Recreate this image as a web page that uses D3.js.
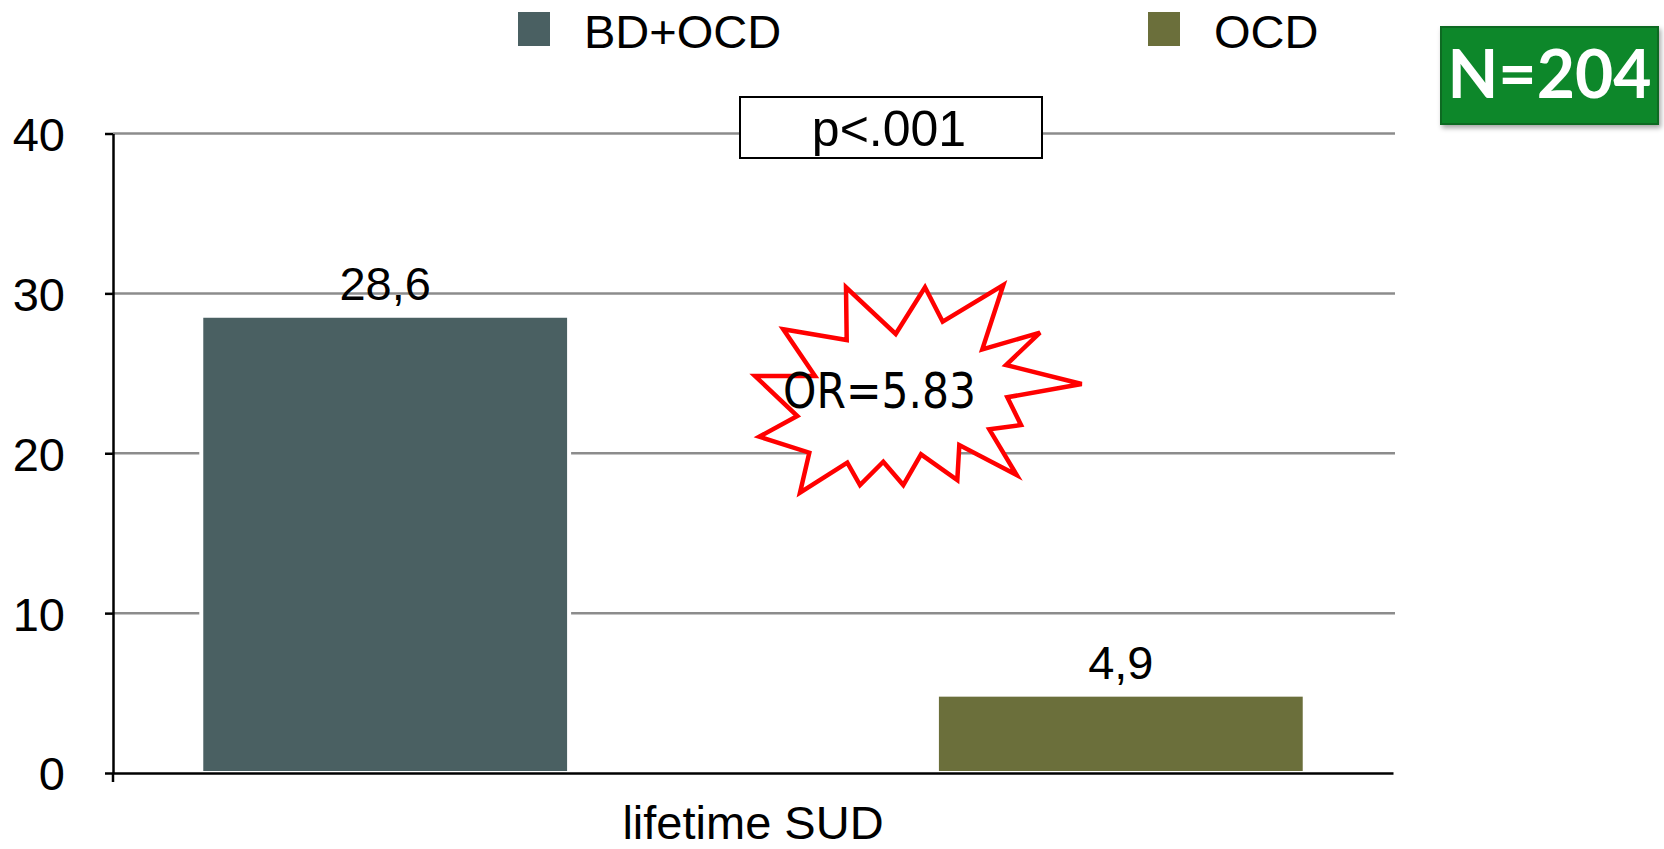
<!DOCTYPE html>
<html>
<head>
<meta charset="utf-8">
<script src="https://cdn.jsdelivr.net/npm/d3@7"></script>
<style>
  html, body { margin: 0; padding: 0; background: #fff; }
  svg { display: block; font-family: "Liberation Sans", Arial, Helvetica, sans-serif; }
</style>
</head>
<body>
<svg id="chart" width="1664" height="849"></svg>
<script>
// ---- data ----
const categories = ["lifetime SUD"];
const seriesNames = ["BD+OCD", "OCD"];
const seriesValues = [28.6, 4.9];
const valueLabels = ["28,6", "4,9"];
const seriesColors = ["#4a6062", "#6b6f3b"];
const yTicks = [0, 10, 20, 30, 40];
const pValueText = "p<.001";
const oddsRatioText = "OR=5.83";
const sampleSizeText = "N=204";

// ---- layout ----
const W = 1664, H = 849;
const plot = { left: 113, right: 1395, top: 133.5, bottom: 773 };
const FONT = 47;
const SANS = "'Liberation Sans', Arial, Helvetica, sans-serif";

const svg = d3.select("#chart");

const defs = svg.append("defs");
const shadow = defs.append("filter").attr("id", "boxShadow")
  .attr("x", "-10%").attr("y", "-10%").attr("width", "130%").attr("height", "140%");
shadow.append("feDropShadow").attr("dx", 2).attr("dy", 3).attr("stdDeviation", 2.5)
  .attr("flood-color", "#000").attr("flood-opacity", 0.35);

const y = d3.scaleLinear().domain([0, 40]).range([plot.bottom, plot.top]);
const x0 = d3.scaleBand().domain(categories).range([plot.left, plot.right - 2]).padding(0);
const x1 = d3.scaleBand().domain(seriesNames).range([0, x0.bandwidth()])
  .paddingInner(0.5).paddingOuter(0.12);

// gridlines
svg.append("g").selectAll("line").data(yTicks.filter(d => d > 0)).join("line")
  .attr("x1", plot.left).attr("x2", plot.right)
  .attr("y1", d => y(d)).attr("y2", d => y(d))
  .attr("stroke", "#8c8c8c").attr("stroke-width", 2.5);

// bars
const bars = svg.append("g");
categories.forEach(cat => {
  const rows = seriesNames.map((s, i) => ({ s, v: seriesValues[i], c: seriesColors[i], lbl: valueLabels[i] }));
  bars.selectAll(null).data(rows).join("rect")
    .attr("x", d => x0(cat) + x1(d.s))
    .attr("width", x1.bandwidth())
    .attr("y", d => y(d.v))
    .attr("height", d => y(0) - y(d.v))
    .attr("fill", d => d.c)
    .attr("stroke", "#ffffff").attr("stroke-width", 4);

  bars.selectAll(null).data(rows).join("text")
    .attr("x", d => x0(cat) + x1(d.s) + x1.bandwidth() / 2)
    .attr("y", d => y(d.v) - 16)
    .attr("text-anchor", "middle")
    .style("font-family", SANS)
    .attr("font-size", FONT)
    .attr("fill", "#000")
    .text(d => d.lbl);
});

// y axis
const yAxis = d3.axisLeft(y).tickValues(yTicks).tickSize(8).tickSizeOuter(0).tickPadding(40);
const gy = svg.append("g").attr("transform", `translate(${plot.left},0)`).call(yAxis);
gy.select(".domain").attr("stroke", "#000").attr("stroke-width", 2.5);
gy.selectAll(".tick line").attr("stroke", "#000").attr("stroke-width", 2.5);
gy.selectAll(".tick text").attr("font-size", FONT).attr("fill", "#000")
  .attr("font-family", SANS).attr("dy", "0.36em");

// x axis
const xAxis = d3.axisBottom(x0).tickSize(0).tickSizeOuter(0).tickPadding(33);
const gx = svg.append("g").attr("transform", `translate(0,${plot.bottom})`).call(xAxis);
gx.select(".domain").attr("stroke", "#000").attr("stroke-width", 2.5);
gx.selectAll(".tick text").attr("font-size", FONT).attr("fill", "#000")
  .attr("font-family", SANS);
// category boundary tick at the left end of the x axis
gx.append("line").attr("x1", plot.left).attr("x2", plot.left).attr("y1", 0).attr("y2", 9)
  .attr("stroke", "#000").attr("stroke-width", 2.5);

// legend
const legendX = [518, 1148];
const legend = svg.append("g");
seriesNames.forEach((s, i) => {
  legend.append("rect").attr("x", legendX[i]).attr("y", 12).attr("width", 32).attr("height", 34)
    .attr("fill", seriesColors[i]);
  legend.append("text").attr("x", legendX[i] + 66).attr("y", 48)
    .style("font-family", SANS)
    .attr("font-size", FONT).attr("fill", "#000").text(s);
});

// p-value box
const pBox = svg.append("g");
pBox.append("rect").attr("x", 740).attr("y", 97).attr("width", 302).attr("height", 61)
  .attr("fill", "#fff").attr("stroke", "#000").attr("stroke-width", 2);
pBox.append("text").attr("x", 889).attr("y", 146).attr("text-anchor", "middle")
  .style("font-family", SANS)
  .attr("font-size", 50).attr("fill", "#000").text(pValueText);

// odds-ratio starburst
const starCenter = [918, 385];
const starOffsets = [
  [-134.7, -55.7], [-71.3, -45], [-72, -97.7], [-22.3, -51], [7, -97.7], [24.7, -63.3],
  [85.3, -100], [64.3, -35.7], [122, -52.3], [88, -20], [163.7, -1], [89.3, 12.3],
  [103, 40], [71.3, 44.3], [98.7, 90], [41.3, 60], [39.3, 95], [3, 69.3],
  [-14.7, 100], [-34.7, 76.7], [-58, 100], [-70.7, 77.7], [-118, 107.7], [-108.7, 67.7],
  [-158.7, 51.7], [-120.7, 31], [-163, -9], [-103, -9]
];
const starLine = d3.line().curve(d3.curveLinearClosed);
svg.append("path")
  .attr("d", starLine(starOffsets.map(p => [starCenter[0] + p[0], starCenter[1] + p[1]])))
  .attr("fill", "#fff").attr("stroke", "#ff0000").attr("stroke-width", 4.5)
  .attr("stroke-linejoin", "miter");
svg.append("text").attr("x", 783).attr("y", 408)
  .style("font-family", "'DejaVu Sans', 'Noto Sans', sans-serif")
  .attr("font-size", 49).attr("fill", "#000")
  .attr("textLength", 193).attr("lengthAdjust", "spacingAndGlyphs")
  .text(oddsRatioText);

// sample-size badge
const badge = svg.append("g");
badge.append("rect").attr("x", 1441).attr("y", 27).attr("width", 217).attr("height", 97)
  .attr("fill", "#08872b").attr("stroke", "#0b6a22").attr("stroke-width", 2)
  .attr("filter", "url(#boxShadow)");
badge.append("text").attr("x", 1549.5).attr("y", 98).attr("text-anchor", "middle")
  .style("font-family", "Lato, 'Liberation Sans', sans-serif")
  .attr("font-size", 66).attr("font-weight", 700).attr("fill", "#fff").text(sampleSizeText);
</script>
</body>
</html>
